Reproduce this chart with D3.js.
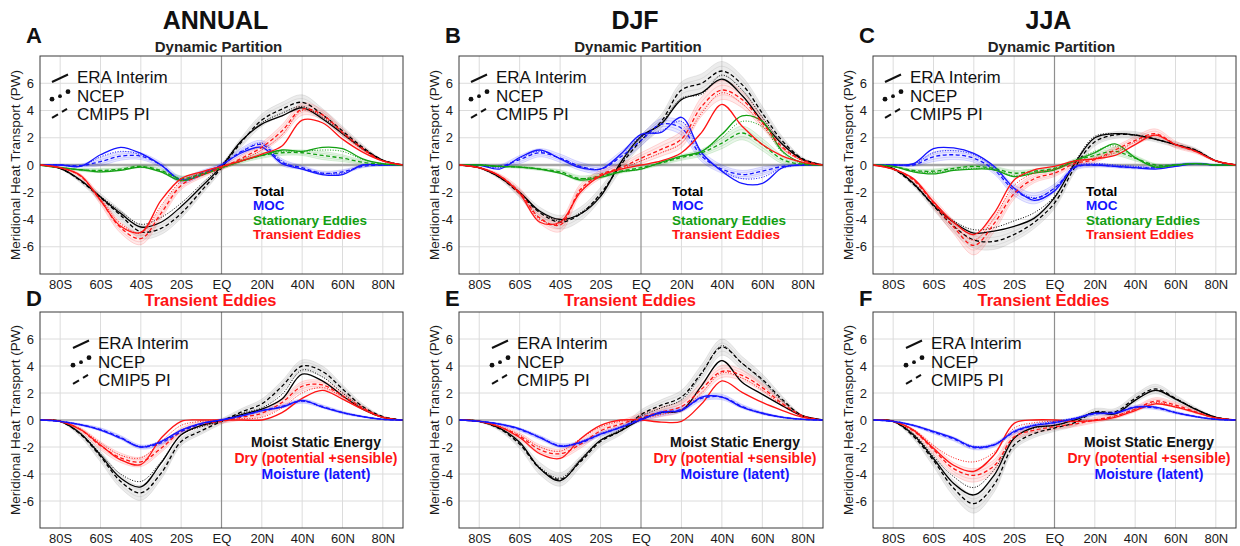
<!DOCTYPE html>
<html lang="en">
<head>
<meta charset="UTF-8">
<title>Meridional Heat Transport</title>
<script src="https://d3js.org/d3.v7.min.js"></script>
<style>
  body { margin: 0; background: #fff; }
  svg text { font-family: "Liberation Sans", Arial, Helvetica, sans-serif; }
</style>
</head>
<body>
<div id="chart"></div>
<script>
// latitude grid (deg, negative = south)
const lat = [-90,-80,-70,-60,-50,-40,-30,-20,-10,0,10,20,30,40,50,60,70,80,90];
const xTicks = [-80,-60,-40,-20,0,20,40,60,80];
const xTickLabels = ["80S","60S","40S","20S","EQ","20N","40N","60N","80N"];
const yTicks = [-6,-4,-2,0,2,4,6];

// ---- A: annual, dynamic partition ----
const annTotalEra  = [0,-0.25,-1.1,-2.35,-3.55,-4.55,-4.2,-3.05,-1.6,-0.1,1.8,3.0,3.6,4.2,3.4,2.3,1.2,0.35,0];
const annTotalNcep = [0,-0.25,-1.1,-2.3,-3.4,-4.35,-3.85,-2.8,-1.4,0,1.8,3.1,3.8,4.3,3.5,2.4,1.2,0.35,0];
const annTotalCmip = [0,-0.25,-1.15,-2.4,-3.7,-4.9,-4.65,-3.55,-1.9,-0.2,1.7,3.3,4.1,4.6,3.7,2.5,1.3,0.35,0];
const annTotalSpr  = [0,0.05,0.15,0.3,0.4,0.5,0.45,0.35,0.3,0.25,0.35,0.45,0.5,0.55,0.45,0.35,0.2,0.05,0];
const annMocEra  = [0,0,-0.1,0.75,1.3,0.85,0,-1.1,-0.75,0,0.9,1.3,0.1,-0.3,-0.7,-0.7,0,0,0];
const annMocNcep = [0,0,-0.1,0.6,1.0,0.75,0,-1.05,-0.7,0,1.0,1.6,0.3,-0.3,-0.6,-0.6,0,0,0];
const annMocCmip = [0,0,-0.05,0.25,0.65,0.65,0,-1.1,-0.6,0,1.0,1.5,0.2,-0.2,-0.6,-0.5,-0.1,0,0];
const annMocSpr  = [0,0.05,0.1,0.3,0.3,0.25,0.2,0.25,0.2,0.15,0.25,0.3,0.25,0.15,0.15,0.15,0.1,0.05,0];
const annSeEra  = [0,-0.2,-0.35,-0.5,-0.4,-0.15,-0.5,-1.15,-0.75,-0.2,0.3,0.7,1.1,1.0,1.3,1.2,0.45,0.1,0];
const annSeNcep = [0,-0.2,-0.35,-0.45,-0.35,-0.15,-0.45,-1.0,-0.65,-0.2,0.3,0.7,1.0,1.0,1.1,1.0,0.4,0.1,0];
const annSeCmip = [0,-0.2,-0.35,-0.4,-0.3,-0.1,-0.4,-1.0,-0.65,-0.2,0.3,0.7,0.9,0.9,0.7,0.5,0.2,0.05,0];
const annSeSpr  = [0,0.05,0.1,0.15,0.1,0.1,0.15,0.2,0.15,0.1,0.15,0.2,0.2,0.2,0.3,0.25,0.15,0.05,0];
const annTeEra  = [0,-0.2,-0.75,-2.6,-4.5,-4.95,-2.6,-1.0,-0.5,-0.1,0.3,0.8,1.4,3.3,3.1,1.9,0.95,0.3,0];
const annTeNcep = [0,-0.2,-0.8,-2.5,-4.3,-5.0,-3.0,-1.2,-0.6,-0.1,0.4,1.1,2.2,4.0,3.6,2.3,1.1,0.3,0];
const annTeCmip = [0,-0.2,-0.8,-2.6,-4.6,-5.4,-3.55,-1.5,-0.75,-0.2,0.5,1.3,2.5,4.1,3.7,2.4,1.2,0.3,0];
const annTeSpr  = [0,0.05,0.15,0.3,0.4,0.45,0.4,0.3,0.2,0.15,0.25,0.35,0.45,0.45,0.35,0.3,0.15,0.05,0];

// ---- B: DJF, dynamic partition ----
const djfTotalEra  = [0,-0.2,-0.9,-2.0,-3.4,-4.0,-3.6,-2.3,0.2,2.1,3.0,4.8,5.3,6.3,5.1,3.2,1.5,0.4,0];
const djfTotalNcep = [0,-0.2,-0.9,-2.0,-3.4,-4.1,-3.5,-2.2,0.1,2.0,3.1,4.9,5.2,6.6,5.5,3.5,1.6,0.4,0];
const djfTotalCmip = [0,-0.2,-0.9,-2.1,-3.5,-4.2,-3.6,-2.1,0.0,1.8,3.2,5.5,6.0,6.9,5.9,3.8,1.75,0.45,0];
const djfTotalSpr  = [0,0.05,0.15,0.3,0.4,0.5,0.5,0.45,0.4,0.4,0.5,0.6,0.7,0.7,0.6,0.5,0.3,0.1,0];
const djfMocEra  = [0,0,-0.3,0.55,1.1,0.45,-0.2,-0.3,0.8,2.25,2.4,3.5,0.9,-0.45,-1.35,-1.35,-0.2,0,0];
const djfMocNcep = [0,0,-0.2,0.5,1.0,0.5,-0.1,-0.3,0.7,2.1,2.5,3.2,0.8,-0.4,-1.0,-0.9,-0.2,0,0];
const djfMocCmip = [0,0,-0.1,0.4,0.9,0.5,-0.1,-0.3,0.6,1.8,3.0,2.7,0.65,-0.3,-0.7,-0.45,-0.1,0,0];
const djfMocSpr  = [0,0.05,0.1,0.3,0.3,0.3,0.3,0.3,0.4,0.4,0.4,0.5,0.4,0.3,0.3,0.3,0.15,0.05,0];
const djfSeEra  = [0,0,-0.1,-0.15,-0.3,-0.6,-1.1,-0.9,-0.5,-0.3,0.2,0.65,1.0,2.25,3.6,3.2,1.0,0.15,0];
const djfSeNcep = [0,0,-0.1,-0.15,-0.3,-0.6,-1.0,-0.8,-0.5,-0.3,0.2,0.6,1.0,2.0,3.2,2.8,0.9,0.1,0];
const djfSeCmip = [0,0,-0.1,-0.15,-0.3,-0.5,-1.0,-0.8,-0.45,-0.2,0.15,0.55,0.9,1.6,2.35,1.5,0.4,0.05,0];
const djfSeSpr  = [0,0.02,0.05,0.1,0.1,0.15,0.2,0.2,0.15,0.15,0.15,0.2,0.25,0.4,0.5,0.45,0.3,0.05,0];
const djfTeEra  = [0,-0.2,-0.8,-2.1,-4.2,-4.2,-2.0,-0.8,-0.3,0,0.3,0.9,2.4,4.45,2.85,1.5,0.65,0.2,0];
const djfTeNcep = [0,-0.2,-0.8,-2.0,-4.0,-4.3,-1.9,-0.8,-0.3,0.3,0.9,1.6,3.8,5.3,4.5,2.9,1.2,0.3,0];
const djfTeCmip = [0,-0.2,-0.8,-2.0,-3.9,-4.4,-1.8,-0.7,-0.2,0.5,1.15,1.9,4.3,5.5,4.8,3.1,1.3,0.35,0];
const djfTeSpr  = [0,0.05,0.15,0.3,0.4,0.5,0.4,0.3,0.3,0.4,0.5,0.6,0.7,0.7,0.6,0.4,0.2,0.05,0];

// ---- C: JJA, dynamic partition ----
const jjaTotalEra  = [0,-0.25,-1.35,-2.95,-4.2,-5.0,-4.85,-4.5,-3.9,-2.4,0.1,2.0,2.3,2.2,1.9,1.5,1.05,0.3,0];
const jjaTotalNcep = [0,-0.25,-1.3,-2.9,-4.1,-4.75,-4.6,-4.1,-3.5,-2.3,0.2,2.1,2.3,2.2,1.9,1.5,1.1,0.3,0];
const jjaTotalCmip = [0,-0.3,-1.4,-3.0,-4.5,-5.5,-5.6,-5.1,-4.2,-2.8,-0.2,1.7,2.2,2.2,1.9,1.5,1.1,0.3,0];
const jjaTotalSpr  = [0,0.05,0.15,0.3,0.45,0.6,0.6,0.5,0.45,0.4,0.35,0.3,0.25,0.25,0.2,0.2,0.15,0.05,0];
const jjaMocEra  = [0,0,0.1,1.2,1.25,0.85,-0.1,-1.7,-2.6,-1.9,-0.15,0,-0.1,-0.2,-0.3,-0.1,0.1,0,0];
const jjaMocNcep = [0,0,0.05,0.9,1.05,0.75,-0.2,-1.7,-2.4,-1.7,-0.1,0.1,0,-0.1,-0.2,0,0.1,0,0];
const jjaMocCmip = [0,0,0,0.6,0.75,0.5,-0.35,-1.85,-2.45,-1.7,-0.2,0,-0.1,-0.2,-0.2,0,0.1,0,0];
const jjaMocSpr  = [0,0.05,0.1,0.35,0.35,0.3,0.3,0.4,0.4,0.3,0.2,0.15,0.1,0.1,0.1,0.1,0.1,0.05,0];
const jjaSeEra  = [0,-0.1,-0.5,-0.65,-0.4,-0.3,-0.35,-0.85,-0.6,-0.35,0.3,0.9,1.55,0.55,-0.15,0,0.1,0,0];
const jjaSeNcep = [0,-0.1,-0.45,-0.55,-0.35,-0.25,-0.3,-0.8,-0.5,-0.3,0.3,1.0,1.4,0.5,-0.1,0,0.1,0,0];
const jjaSeCmip = [0,-0.1,-0.4,-0.45,-0.25,-0.1,-0.25,-0.6,-0.45,-0.25,0.3,0.7,1.0,0.5,0,0,0.1,0,0];
const jjaSeSpr  = [0,0.03,0.1,0.15,0.1,0.1,0.15,0.2,0.15,0.1,0.15,0.25,0.3,0.2,0.1,0.05,0.05,0.02,0];
const jjaTeEra  = [0,-0.3,-1.0,-2.7,-4.2,-5.1,-3.55,-1.1,-0.35,-0.1,0.3,0.45,0.7,1.5,2.2,1.5,1.0,0.3,0];
const jjaTeNcep = [0,-0.3,-1.05,-2.75,-4.4,-5.5,-3.9,-1.5,-0.6,-0.3,0.2,0.5,0.9,1.7,2.2,1.5,1.0,0.3,0];
const jjaTeCmip = [0,-0.3,-1.1,-2.8,-4.55,-5.9,-4.3,-2.1,-1.0,-0.6,0.1,0.4,1.1,1.8,2.3,1.5,1.0,0.3,0];
const jjaTeSpr  = [0,0.05,0.15,0.35,0.5,0.7,0.6,0.4,0.3,0.25,0.2,0.2,0.25,0.3,0.35,0.25,0.15,0.05,0];

// ---- D: annual, transient eddies ----
const annMseEra  = [0,-0.1,-1.0,-2.6,-4.3,-4.95,-3.2,-1.1,-0.4,-0.05,0.4,0.8,1.55,3.4,2.9,1.8,0.8,0.2,0];
const annMseNcep = [0,-0.1,-0.95,-2.5,-4.0,-4.55,-3.1,-1.1,-0.5,-0.1,0.5,0.9,1.9,3.7,3.2,2.0,0.9,0.2,0];
const annMseCmip = [0,-0.1,-1.05,-2.7,-4.55,-5.4,-3.95,-1.6,-0.8,-0.1,0.6,1.2,2.5,4.0,3.6,2.3,1.0,0.25,0];
const annMseSpr  = [0,0.05,0.2,0.4,0.5,0.55,0.45,0.3,0.25,0.2,0.25,0.35,0.4,0.45,0.4,0.3,0.2,0.05,0];
const annDryEra  = [0,-0.1,-0.7,-1.85,-2.95,-3.3,-1.35,-0.1,0,0,0,0,0.55,1.6,2.2,1.55,0.8,0.2,0];
const annDryNcep = [0,-0.1,-0.65,-1.7,-2.6,-2.8,-1.6,-0.4,-0.1,0,0.1,0.2,0.9,2.0,2.4,1.7,0.8,0.2,0];
const annDryCmip = [0,-0.1,-0.7,-1.9,-2.8,-3.1,-2.1,-0.85,-0.3,-0.1,0.2,0.5,1.3,2.5,2.6,1.8,0.9,0.2,0];
const annDrySpr  = [0,0.05,0.15,0.3,0.35,0.35,0.3,0.25,0.2,0.15,0.2,0.25,0.3,0.35,0.3,0.25,0.15,0.05,0];
const annMoistEra  = [0,-0.1,-0.35,-0.75,-1.35,-2.0,-1.6,-0.75,-0.25,0,0.3,0.7,0.95,1.45,0.95,0.55,0.25,0.05,0];
const annMoistNcep = [0,-0.1,-0.35,-0.75,-1.3,-1.95,-1.55,-0.75,-0.25,0,0.35,0.7,1.0,1.4,0.95,0.55,0.25,0.05,0];
const annMoistCmip = [0,-0.1,-0.35,-0.7,-1.3,-2.0,-1.7,-0.85,-0.3,0,0.3,0.7,1.0,1.4,1.0,0.55,0.25,0.05,0];
const annMoistSpr  = [0,0.03,0.08,0.12,0.15,0.15,0.15,0.12,0.1,0.1,0.1,0.12,0.12,0.15,0.12,0.1,0.06,0.02,0];

// ---- E: DJF, transient eddies ----
const djfMseEra  = [0,-0.1,-0.6,-1.65,-3.6,-4.5,-3.0,-1.5,-0.8,0.05,0.55,0.7,2.55,4.4,2.8,1.9,1.05,0.3,0];
const djfMseNcep = [0,-0.1,-0.6,-1.7,-3.5,-4.3,-2.9,-1.5,-0.7,0.3,0.9,1.5,3.4,5.5,4.2,2.9,1.4,0.3,0];
const djfMseCmip = [0,-0.1,-0.65,-1.8,-3.6,-4.4,-3.1,-1.6,-0.8,0.4,1.1,1.7,3.5,5.4,4.2,3.0,1.5,0.3,0];
const djfMseSpr  = [0,0.05,0.15,0.3,0.45,0.5,0.4,0.35,0.3,0.35,0.4,0.5,0.6,0.6,0.5,0.4,0.25,0.05,0];
const djfDryEra  = [0,-0.1,-0.5,-1.3,-2.5,-2.85,-1.4,-0.4,0,0,-0.15,-0.1,1.2,2.9,2.05,1.3,0.7,0.2,0];
const djfDryNcep = [0,-0.1,-0.45,-1.1,-2.0,-2.3,-1.4,-0.5,-0.1,0.1,0.4,0.8,2.0,3.5,3.1,2.2,1.1,0.3,0];
const djfDryCmip = [0,-0.1,-0.5,-1.2,-2.2,-2.5,-1.8,-0.8,-0.3,0.2,0.6,1.0,2.3,3.6,3.3,2.4,1.2,0.3,0];
const djfDrySpr  = [0,0.05,0.12,0.25,0.35,0.35,0.3,0.25,0.25,0.3,0.35,0.4,0.45,0.45,0.4,0.3,0.2,0.05,0];
const djfMoistEra  = [0,-0.1,-0.3,-0.65,-1.3,-1.95,-1.65,-1.05,-0.55,0,0.6,0.7,1.7,1.7,0.95,0.5,0.2,0.05,0];
const djfMoistNcep = [0,-0.1,-0.3,-0.65,-1.25,-1.9,-1.6,-1.0,-0.5,0.05,0.55,0.75,1.65,1.7,0.95,0.5,0.2,0.05,0];
const djfMoistCmip = [0,-0.1,-0.3,-0.7,-1.3,-1.9,-1.7,-1.05,-0.55,0.1,0.5,0.8,1.6,1.7,1.0,0.5,0.2,0.05,0];
const djfMoistSpr  = [0,0.03,0.08,0.12,0.15,0.15,0.15,0.15,0.15,0.2,0.2,0.2,0.2,0.2,0.15,0.1,0.06,0.02,0];

// ---- F: JJA, transient eddies ----
const jjaMseEra  = [0,-0.1,-1.1,-2.85,-4.7,-5.55,-4.1,-1.35,-0.55,-0.4,0,0.55,0.45,1.45,2.2,1.55,0.8,0.2,0];
const jjaMseNcep = [0,-0.1,-1.0,-2.7,-4.2,-5.0,-3.7,-1.3,-0.6,-0.4,0,0.6,0.5,1.5,2.2,1.6,0.8,0.2,0];
const jjaMseCmip = [0,-0.1,-1.2,-3.0,-5.05,-6.2,-4.8,-1.85,-1.0,-0.6,-0.2,0.6,0.6,1.6,2.3,1.6,0.8,0.2,0];
const jjaMseSpr  = [0,0.05,0.2,0.45,0.6,0.7,0.55,0.35,0.3,0.25,0.25,0.25,0.25,0.3,0.35,0.25,0.15,0.05,0];
const jjaDryEra  = [0,-0.1,-0.75,-2.1,-3.35,-3.8,-2.6,-0.25,0,0,-0.1,-0.05,0.2,0.7,1.2,0.95,0.55,0.15,0];
const jjaDryNcep = [0,-0.1,-0.7,-1.9,-2.8,-3.1,-2.4,-0.6,-0.2,-0.1,-0.1,0,0.3,0.8,1.3,1.0,0.6,0.15,0];
const jjaDryCmip = [0,-0.1,-0.8,-2.2,-3.6,-4.1,-3.4,-1.25,-0.75,-0.5,-0.3,0,0.3,0.8,1.4,1.1,0.6,0.15,0];
const jjaDrySpr  = [0,0.05,0.15,0.35,0.45,0.5,0.45,0.3,0.25,0.2,0.2,0.2,0.2,0.2,0.25,0.2,0.12,0.04,0];
const jjaMoistEra  = [0,-0.1,-0.4,-0.85,-1.35,-2.0,-1.85,-0.85,-0.4,-0.2,0.1,0.5,0.5,0.95,0.95,0.55,0.25,0.05,0];
const jjaMoistNcep = [0,-0.1,-0.4,-0.85,-1.35,-1.95,-1.8,-0.8,-0.35,-0.1,0.15,0.5,0.5,0.9,0.95,0.55,0.25,0.05,0];
const jjaMoistCmip = [0,-0.1,-0.4,-0.9,-1.4,-2.05,-1.85,-0.9,-0.4,-0.2,0.1,0.45,0.55,0.95,0.9,0.55,0.25,0.05,0];
const jjaMoistSpr  = [0,0.03,0.08,0.12,0.15,0.15,0.15,0.15,0.15,0.12,0.1,0.12,0.12,0.15,0.12,0.1,0.06,0.02,0];

const BLACK = "#000000", BLUE = "#1414ff", GREEN = "#12a012", RED = "#ff1414";

const topKey = [["Total", BLACK], ["MOC", BLUE], ["Stationary Eddies", GREEN], ["Transient Eddies", RED]];
const botKey = [["Moist Static Energy", "#111"], ["Dry (potential +sensible)", RED], ["Moisture (latent)", BLUE]];
const styleKey = ["ERA Interim", "NCEP", "CMIP5 PI"];

const panels = [
  { letter: "A", title: "ANNUAL", sub: "Dynamic Partition", x: 40, y: 56, w: 363, h: 218, top: true,
    series: [
      { c: BLACK, era: annTotalEra, ncep: annTotalNcep, cmip: annTotalCmip, spr: annTotalSpr },
      { c: BLUE, era: annMocEra, ncep: annMocNcep, cmip: annMocCmip, spr: annMocSpr },
      { c: GREEN, era: annSeEra, ncep: annSeNcep, cmip: annSeCmip, spr: annSeSpr },
      { c: RED, era: annTeEra, ncep: annTeNcep, cmip: annTeCmip, spr: annTeSpr } ] },
  { letter: "B", title: "DJF", sub: "Dynamic Partition", x: 459, y: 56, w: 364, h: 218, top: true,
    series: [
      { c: BLACK, era: djfTotalEra, ncep: djfTotalNcep, cmip: djfTotalCmip, spr: djfTotalSpr },
      { c: BLUE, era: djfMocEra, ncep: djfMocNcep, cmip: djfMocCmip, spr: djfMocSpr },
      { c: GREEN, era: djfSeEra, ncep: djfSeNcep, cmip: djfSeCmip, spr: djfSeSpr },
      { c: RED, era: djfTeEra, ncep: djfTeNcep, cmip: djfTeCmip, spr: djfTeSpr } ] },
  { letter: "C", title: "JJA", sub: "Dynamic Partition", x: 873, y: 56, w: 363, h: 218, top: true,
    series: [
      { c: BLACK, era: jjaTotalEra, ncep: jjaTotalNcep, cmip: jjaTotalCmip, spr: jjaTotalSpr },
      { c: BLUE, era: jjaMocEra, ncep: jjaMocNcep, cmip: jjaMocCmip, spr: jjaMocSpr },
      { c: GREEN, era: jjaSeEra, ncep: jjaSeNcep, cmip: jjaSeCmip, spr: jjaSeSpr },
      { c: RED, era: jjaTeEra, ncep: jjaTeNcep, cmip: jjaTeCmip, spr: jjaTeSpr } ] },
  { letter: "D", sub: "Transient Eddies", x: 40, y: 312, w: 363, h: 216, top: false,
    series: [
      { c: BLACK, era: annMseEra, ncep: annMseNcep, cmip: annMseCmip, spr: annMseSpr },
      { c: RED, era: annDryEra, ncep: annDryNcep, cmip: annDryCmip, spr: annDrySpr },
      { c: BLUE, era: annMoistEra, ncep: annMoistNcep, cmip: annMoistCmip, spr: annMoistSpr } ] },
  { letter: "E", sub: "Transient Eddies", x: 459, y: 312, w: 364, h: 216, top: false,
    series: [
      { c: BLACK, era: djfMseEra, ncep: djfMseNcep, cmip: djfMseCmip, spr: djfMseSpr },
      { c: RED, era: djfDryEra, ncep: djfDryNcep, cmip: djfDryCmip, spr: djfDrySpr },
      { c: BLUE, era: djfMoistEra, ncep: djfMoistNcep, cmip: djfMoistCmip, spr: djfMoistSpr } ] },
  { letter: "F", sub: "Transient Eddies", x: 873, y: 312, w: 363, h: 216, top: false,
    series: [
      { c: BLACK, era: jjaMseEra, ncep: jjaMseNcep, cmip: jjaMseCmip, spr: jjaMseSpr },
      { c: RED, era: jjaDryEra, ncep: jjaDryNcep, cmip: jjaDryCmip, spr: jjaDrySpr },
      { c: BLUE, era: jjaMoistEra, ncep: jjaMoistNcep, cmip: jjaMoistCmip, spr: jjaMoistSpr } ] }
];

const svg = d3.select("#chart").append("svg")
  .attr("width", 1240).attr("height", 546);

panels.forEach((p, i) => drawPanel(p, i));

function drawPanel(p, i) {
  const x = d3.scaleLinear().domain([-90, 90]).range([p.x, p.x + p.w]);
  const y = d3.scaleLinear().domain([-8, 8]).range([p.y + p.h, p.y]);
  const g = svg.append("g");

  // grid
  g.selectAll(".vg").data(xTicks.filter(d => d !== 0)).enter().append("line")
    .attr("x1", d => x(d)).attr("x2", d => x(d)).attr("y1", p.y).attr("y2", p.y + p.h)
    .attr("stroke", "#dcdcdc").attr("stroke-width", 1);
  g.selectAll(".hg").data(yTicks.filter(d => d !== 0)).enter().append("line")
    .attr("x1", p.x).attr("x2", p.x + p.w).attr("y1", d => y(d)).attr("y2", d => y(d))
    .attr("stroke", "#dcdcdc").attr("stroke-width", 1);

  // zero line and equator
  g.append("line").attr("x1", p.x).attr("x2", p.x + p.w).attr("y1", y(0)).attr("y2", y(0))
    .attr("stroke", p.top ? "#a6a6a6" : "#7a7a7a").attr("stroke-width", p.top ? 2.4 : 1);
  g.append("line").attr("x1", x(0)).attr("x2", x(0)).attr("y1", p.y).attr("y2", p.y + p.h)
    .attr("stroke", "#8f8f8f").attr("stroke-width", 1.2);

  // axes
  const ax = g.append("g").attr("transform", `translate(0,${p.y + p.h})`)
    .call(d3.axisBottom(x).tickValues(xTicks).tickSize(0).tickPadding(6)
      .tickFormat((d, k) => xTickLabels[k]));
  const ay = g.append("g").attr("transform", `translate(${p.x},0)`)
    .call(d3.axisLeft(y).tickValues(yTicks).tickSize(0).tickPadding(6)
      .tickFormat(d => String(d)));
  [ax, ay].forEach(a => {
    a.select(".domain").remove();
    a.selectAll("text").attr("font-size", 13).attr("fill", "#1a1a1a")
      .attr("font-family", "'Liberation Sans', Arial, sans-serif");
  });

  g.append("text").attr("transform", `translate(${p.x - 20},${p.y + p.h / 2}) rotate(-90)`)
    .attr("text-anchor", "middle").attr("font-size", 13.5).attr("fill", "#1a1a1a")
    .text("Meridional Heat Transport (PW)");

  // clip
  const clipId = "clip" + i;
  svg.append("clipPath").attr("id", clipId).append("rect")
    .attr("x", p.x).attr("y", p.y).attr("width", p.w).attr("height", p.h);
  const plot = g.append("g").attr("clip-path", `url(#${clipId})`);

  const curve = d3.curveCatmullRom.alpha(0.5);
  const line = arr => d3.line().curve(curve)
    .x((d, k) => x(lat[k])).y(d => y(d))(arr);
  const area = (mid, spr) => d3.area().curve(curve)
    .x((d, k) => x(lat[k])).y0((d, k) => y(mid[k] - spr[k])).y1((d, k) => y(mid[k] + spr[k]))(mid);
  const edge = (mid, spr, s) => line(mid.map((v, k) => v + s * spr[k]));

  // ensemble envelopes
  p.series.forEach(s => {
    const light = s.c === BLACK ? "#7f7f7f" : s.c;
    plot.append("path").attr("d", area(s.cmip, s.spr))
      .attr("fill", light).attr("fill-opacity", s.c === BLACK ? 0.15 : 0.09);
    [-1, -0.5, 0.5, 1].forEach(f => {
      plot.append("path").attr("d", edge(s.cmip, s.spr, f))
        .attr("fill", "none").attr("stroke", light).attr("stroke-opacity", 0.22).attr("stroke-width", 0.7);
    });
  });

  // main lines
  p.series.forEach(s => {
    plot.append("path").attr("d", line(s.ncep)).attr("fill", "none")
      .attr("stroke", s.c).attr("stroke-width", 1).attr("stroke-dasharray", "1,1.6");
    plot.append("path").attr("d", line(s.cmip)).attr("fill", "none")
      .attr("stroke", s.c).attr("stroke-width", 1.3).attr("stroke-dasharray", "4,2.5");
    plot.append("path").attr("d", line(s.era)).attr("fill", "none")
      .attr("stroke", s.c).attr("stroke-width", 1.3);
  });

  // frame
  g.append("rect").attr("x", p.x).attr("y", p.y).attr("width", p.w).attr("height", p.h)
    .attr("fill", "none").attr("stroke", "#3a3a3a").attr("stroke-width", 1);

  // titles
  const cx = p.x + p.w / 2;
  if (p.top) {
    svg.append("text").attr("x", cx - 6).attr("y", 29).attr("text-anchor", "middle")
      .attr("font-size", 25).attr("font-weight", "bold").attr("fill", "#111").text(p.title);
    svg.append("text").attr("x", cx - 3).attr("y", 52).attr("text-anchor", "middle")
      .attr("font-size", 15).attr("font-weight", "bold").attr("fill", "#222").text(p.sub);
    svg.append("text").attr("x", p.x - 14).attr("y", 43)
      .attr("font-size", 22).attr("font-weight", "bold").attr("fill", "#111").text(p.letter);
  } else {
    svg.append("text").attr("x", cx - 11).attr("y", 306).attr("text-anchor", "middle")
      .attr("font-size", 16.5).attr("font-weight", "bold").attr("fill", RED).text(p.sub);
    svg.append("text").attr("x", p.x - 14).attr("y", 306)
      .attr("font-size", 22).attr("font-weight", "bold").attr("fill", "#111").text(p.letter);
  }

  // line style key
  const kx = p.x + (p.top ? 12 : 33), tx = p.x + (p.top ? 37 : 58), ky = p.y + (p.top ? 27 : 37);
  const kg = svg.append("g");
  styleKey.forEach((t, k) => {
    kg.append("text").attr("x", tx).attr("y", ky + k * 18.7).attr("font-size", 17)
      .attr("fill", "#111").text(t);
  });
  kg.append("line").attr("x1", kx).attr("y1", ky - 1).attr("x2", kx + 16).attr("y2", ky - 8.5)
    .attr("stroke", "#111").attr("stroke-width", 2);
  const b2 = ky + 18.7;
  [[0, -2.5, 2.4], [8, -5.5, 1.9], [16, -10, 2.4]].forEach(d => {
    kg.append("circle").attr("cx", kx + d[0]).attr("cy", b2 + d[1]).attr("r", d[2]).attr("fill", "#111");
  });
  const b3 = ky + 37.4;
  kg.append("line").attr("x1", kx).attr("y1", b3 - 2.5).attr("x2", kx + 6).attr("y2", b3 - 6)
    .attr("stroke", "#111").attr("stroke-width", 2);
  kg.append("line").attr("x1", kx + 10).attr("y1", b3 - 8.5).attr("x2", kx + 15).attr("y2", b3 - 11.5)
    .attr("stroke", "#111").attr("stroke-width", 2);

  // colour key
  if (p.top) {
    topKey.forEach((d, k) => {
      svg.append("text").attr("x", p.x + 213).attr("y", p.y + 139.5 + k * 14.5)
        .attr("font-size", 13.5).attr("font-weight", "bold").attr("fill", d[1]).text(d[0]);
    });
  } else {
    botKey.forEach((d, k) => {
      svg.append("text").attr("x", p.x + 276).attr("y", p.y + 135 + k * 15.8)
        .attr("text-anchor", "middle")
        .attr("font-size", 14).attr("font-weight", "bold").attr("fill", d[1]).text(d[0]);
    });
  }
}
</script>
</body>
</html>
